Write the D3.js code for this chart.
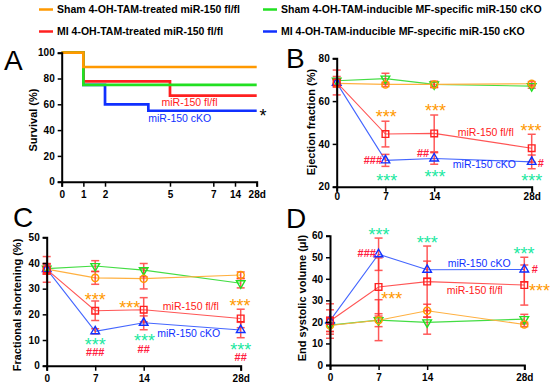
<!DOCTYPE html>
<html>
<head>
<meta charset="UTF-8">
<title>miR-150 cKO</title>
<script src="https://d3js.org/d3.v7.min.js"></script>
<style>
    body { margin: 0; background: #fff; }
    svg { display: block; font-family: Arial, "Liberation Sans", sans-serif; }
    .axis path, .axis line { stroke: #000; }
    .axis path { stroke-width: 2px; }
    .axis line { stroke-width: 1.5px; }
    .axis text { font-size: 10px; font-weight: bold; fill: #000; }
    .ylab { font-size: 11px; font-weight: bold; }
    .letter { font-size: 28px; }
    .legend text { font-size: 10.5px; font-weight: bold; }
</style>
</head>
<body>
<svg id="chart" width="550" height="387"></svg>
<script>
// ---- data ----
const days = [0, 7, 14, 28];
const survTicks = [0, 1, 2, 5, 7, 14, 28];

// survival steps [day, %]
const survShamFl = [[0, 100], [1, 88.9], [28, 88.9]];
const survShamKO = [[0, 100], [1, 75], [28, 75]];
const survMIFl = [[0, 100], [1, 77.8], [5, 66.7], [28, 66.7]];
const survMIKO = [[0, 100], [1, 75], [2, 60], [4, 55], [28, 55]];

// ejection fraction (%), mean and error
const efShamFl = [68.3, 67.8, 67.8, 68.1];
const efShamFlErr = [1.5, 1, 1.2, 1];
const efShamKO = [69.5, 70.5, 67.8, 67.0];
const efShamKOErr = [2, 2.5, 1.5, 1];
const efMIFl = [68.7, 44.6, 44.9, 38.0];
const efMIFlErr = [5.8, 6, 8.6, 6.5];
const efMIKO = [68.5, 32.3, 33.2, 31.6];
const efMIKOErr = [2, 2.8, 2.7, 3.2];

// fractional shortening (%)
const fsShamFl = [37.6, 34.2, 33.9, 35.3];
const fsShamFlErr = [2, 2.5, 4, 1.2];
const fsShamKO = [37.8, 38.8, 37.2, 32.1];
const fsShamKOErr = [2, 2.1, 2.6, 1.8];
const fsMIFl = [37.5, 21.4, 21.8, 18.4];
const fsMIFlErr = [5, 3.8, 4.7, 3.6];
const fsMIKO = [37.6, 13.4, 16.7, 13.9];
const fsMIKOErr = [2, 1, 2.7, 3];

// end systolic volume (ul)
const esvShamFl = [18.3, 20.8, 25.2, 18.8];
const esvShamFlErr = [4, 9.5, 3, 1];
const esvShamKO = [18.5, 20.8, 19.8, 21.3];
const esvShamKOErr = [3, 3, 5.5, 2.2];
const esvMIFl = [20.4, 36.2, 38.7, 37.1];
const esvMIFlErr = [8, 13.5, 16.5, 9.3];
const esvMIKO = [20.6, 51.4, 44.2, 44.3];
const esvMIKOErr = [5, 7.5, 4, 5.7];

const legendLabels = [
    "Sham 4-OH-TAM-treated miR-150 fl/fl",
    "Sham 4-OH-TAM-inducible MF-specific miR-150 cKO",
    "MI 4-OH-TAM-treated miR-150 fl/fl",
    "MI 4-OH-TAM-inducible MF-specific miR-150 cKO"
];

// ---- styles ----
const col = { shamFl: "#ff9900", shamKO: "#22e022", miFl: "#ff2020", miKO: "#1030ff" };
const lineCol = { shamFl: "#ffb040", shamKO: "#44dd44", miFl: "#ff5555", miKO: "#4466ff" };
const starGreen = "#20e8a0";
const hashRed = "#ff2040";

const svg = d3.select("#chart");

// legend
const legend = svg.append("g").attr("class", "legend");
const legPos = [[39, 9.5], [263, 9.5], [39, 31.5], [263, 31.5]];
const legCol = [col.shamFl, col.shamKO, col.miFl, col.miKO];
legendLabels.forEach((t, i) => {
    const [lx, ly] = legPos[i];
    legend.append("line").attr("x1", lx).attr("x2", lx + 14).attr("y1", ly).attr("y2", ly)
        .attr("stroke", legCol[i]).attr("stroke-width", 2.5);
    legend.append("text").attr("x", lx + 18).attr("y", ly).attr("dy", "0.36em").text(t);
});

function drawAxes(g, x, y, p) {
    g.append("g").attr("class", "axis")
        .attr("transform", `translate(0,${p.yRange[0]})`)
        .call(d3.axisBottom(x).tickValues(p.xTicks).tickSizeOuter(0).tickSize(5).tickPadding(p.xPad)
            .tickFormat(d => d === 28 ? "28d" : d));
    g.append("g").attr("class", "axis")
        .attr("transform", `translate(${p.xRange[0]},0)`)
        .call(d3.axisLeft(y).tickValues(p.yTicks).tickSizeOuter(0).tickSize(4).tickPadding(3));
    g.append("text").attr("class", "ylab")
        .attr("transform", `translate(${p.ylabX},${p.ylabY}) rotate(-90)`)
        .attr("text-anchor", "middle").attr("dy", "0.36em").text(p.ylab);
    g.append("text").attr("class", "letter").attr("x", p.letterX).attr("y", p.letterY).text(p.letter);
}

function drawNotes(g, x, y, notes) {
    notes.forEach(n => {
        const t = g.append("text").attr("x", x(n.d)).attr("y", y(n.v))
            .attr("text-anchor", "middle").attr("fill", n.c).text(n.t);
        if (n.t.startsWith("*")) t.attr("font-size", 18).attr("dy", "0.58em");
        else if (n.t.startsWith("#")) t.attr("font-size", 11).attr("font-weight", "bold").attr("dy", "0.36em");
        else t.attr("font-size", 10.5).attr("dy", "0.36em");
    });
}

// ---- panel A: survival ----
(function () {
    const p = {
        xRange: [61.7, 256.7], yRange: [181.7, 52.7], xTicks: survTicks, yTicks: [0, 20, 40, 60, 80, 100],
        xPad: 4, ylab: "Survival (%)", ylabX: 33, ylabY: 120, letter: "A", letterX: 4, letterY: 70
    };
    const x = d3.scaleLinear().domain([0, 7, 14, 28]).range([61.7, 213.3, 235, 256.7]);
    const y = d3.scaleLinear().domain([0, 100]).range(p.yRange);
    const g = svg.append("g");
    const line = d3.line().x(d => x(d[0])).y(d => y(d[1])).curve(d3.curveStepAfter);
    [[survMIKO, col.miKO], [survMIFl, col.miFl], [survShamKO, col.shamKO], [survShamFl, col.shamFl]]
        .forEach(([s, c]) => g.append("path").attr("d", line(s)).attr("fill", "none")
            .attr("stroke", c).attr("stroke-width", 2.7));
    drawAxes(g, x, y, p);
    drawNotes(g, x, y, [
        { d: 5.9, v: 61.8, t: "miR-150 fl/fl", c: col.miFl },
        { d: 5.45, v: 49.4, t: "miR-150 cKO", c: col.miKO },
        { d: 32, v: 54, t: "*", c: "#000" }
    ]);
})();

function drawSeriesPanel(p, series, notes) {
    const x = d3.scaleLinear().domain([0, 28]).range(p.xRange);
    const y = d3.scaleLinear().domain(p.yDomain).range(p.yRange);
    const g = svg.append("g");
    const line = d3.line().x((d, i) => x(days[i])).y(d => y(d));
    series.forEach(s => g.append("path").attr("d", line(s.v)).attr("fill", "none")
        .attr("stroke", s.lc).attr("stroke-width", 1.1));
    // error bars
    series.forEach(s => s.v.forEach((v, i) => {
        const cx = x(days[i]), e = s.e[i];
        const eb = g.append("g").attr("stroke", "#ff3030").attr("stroke-width", 1.5).attr("opacity", 0.8);
        eb.append("line").attr("x1", cx).attr("x2", cx).attr("y1", y(v - e)).attr("y2", y(v + e));
        [v - e, v + e].forEach(w => eb.append("line").attr("x1", cx - 4).attr("x2", cx + 4)
            .attr("y1", y(w)).attr("y2", y(w)));
    }));
    // markers
    series.forEach(s => s.v.forEach((v, i) => {
        g.append("path").attr("d", d3.symbol().type(s.sym).size(s.size)())
            .attr("transform", `translate(${x(days[i])},${y(v)})` + (s.down ? " rotate(180)" : ""))
            .attr("fill", "none").attr("stroke", s.c).attr("stroke-width", 1.4);
    }));
    drawAxes(g, x, y, p);
    drawNotes(g, x, y, notes);
}

function seriesSet(a, ae, b, be, c, ce, d, de) {
    return [
        { v: b, e: be, c: col.shamKO, lc: lineCol.shamKO, sym: d3.symbolTriangle, size: 32, down: true },
        { v: a, e: ae, c: col.shamFl, lc: lineCol.shamFl, sym: d3.symbolCircle, size: 40 },
        { v: d, e: de, c: col.miKO, lc: lineCol.miKO, sym: d3.symbolTriangle, size: 32 },
        { v: c, e: ce, c: col.miFl, lc: lineCol.miFl, sym: d3.symbolSquare, size: 44 }
    ];
}

// ---- panel B: ejection fraction ----
drawSeriesPanel({
    xRange: [336.7, 531.7], yRange: [186.7, 58.3], yDomain: [20, 80], xTicks: days, yTicks: [20, 40, 60, 80],
    xPad: 1, ylab: "Ejection fraction (%)", ylabX: 311, ylabY: 122, letter: "B", letterX: 286, letterY: 68
}, seriesSet(efShamFl, efShamFlErr, efShamKO, efShamKOErr, efMIFl, efMIFlErr, efMIKO, efMIKOErr), [
    { d: 7.1, v: 54.6, t: "***", c: col.shamFl },
    { d: 14.2, v: 57.4, t: "***", c: col.shamFl },
    { d: 27.9, v: 48, t: "***", c: col.shamFl },
    { d: 7.2, v: 24.7, t: "***", c: starGreen },
    { d: 14.1, v: 26.5, t: "***", c: starGreen },
    { d: 28, v: 24.7, t: "***", c: starGreen },
    { d: 5.2, v: 32.5, t: "###", c: hashRed },
    { d: 12.4, v: 35.6, t: "##", c: hashRed },
    { d: 29.3, v: 31.2, t: "#", c: hashRed },
    { d: 21.4, v: 45.5, t: "miR-150 fl/fl", c: col.miFl },
    { d: 21.2, v: 30.5, t: "miR-150 cKO", c: col.miKO }
]);

// ---- panel C: fractional shortening ----
drawSeriesPanel({
    xRange: [46.7, 240.7], yRange: [365.7, 237.3], yDomain: [0, 50], xTicks: days, yTicks: [0, 10, 20, 30, 40, 50],
    xPad: 4, ylab: "Fractional shortening (%)", ylabX: 17, ylabY: 305, letter: "C", letterX: 13, letterY: 227
}, seriesSet(fsShamFl, fsShamFlErr, fsShamKO, fsShamKOErr, fsMIFl, fsMIFlErr, fsMIKO, fsMIKOErr), [
    { d: 7.0, v: 27.5, t: "***", c: col.shamFl },
    { d: 12.0, v: 24.3, t: "***", c: col.shamFl },
    { d: 27.9, v: 24.9, t: "***", c: col.shamFl },
    { d: 7.0, v: 9.6, t: "***", c: starGreen },
    { d: 14.1, v: 11.5, t: "***", c: starGreen },
    { d: 28, v: 7.7, t: "***", c: starGreen },
    { d: 7.0, v: 5.2, t: "###", c: hashRed },
    { d: 14.0, v: 6.6, t: "##", c: hashRed },
    { d: 28, v: 3.3, t: "##", c: hashRed },
    { d: 20.8, v: 23, t: "miR-150 fl/fl", c: col.miFl },
    { d: 20.5, v: 12.8, t: "miR-150 cKO", c: col.miKO }
]);

// ---- panel D: end systolic volume ----
drawSeriesPanel({
    xRange: [330, 524.3], yRange: [365, 235.7], yDomain: [0, 60], xTicks: days, yTicks: [0, 10, 20, 30, 40, 50, 60],
    xPad: 4, ylab: "End systolic volume (\u03bcl)", ylabX: 302, ylabY: 298, letter: "D", letterX: 286, letterY: 228
}, seriesSet(esvShamFl, esvShamFlErr, esvShamKO, esvShamKOErr, esvMIFl, esvMIFlErr, esvMIKO, esvMIKOErr), [
    { d: 7.06, v: 62.3, t: "***", c: starGreen },
    { d: 14, v: 58.8, t: "***", c: starGreen },
    { d: 27.95, v: 53.8, t: "***", c: starGreen },
    { d: 5.3, v: 51.8, t: "###", c: hashRed },
    { d: 29.5, v: 44.5, t: "#", c: hashRed },
    { d: 8.9, v: 32.8, t: "***", c: col.shamFl },
    { d: 30.2, v: 36.3, t: "***", c: col.shamFl },
    { d: 21.5, v: 47.2, t: "miR-150 cKO", c: col.miKO },
    { d: 20.85, v: 34.5, t: "miR-150 fl/fl", c: col.miFl }
]);
</script>
</body>
</html>
